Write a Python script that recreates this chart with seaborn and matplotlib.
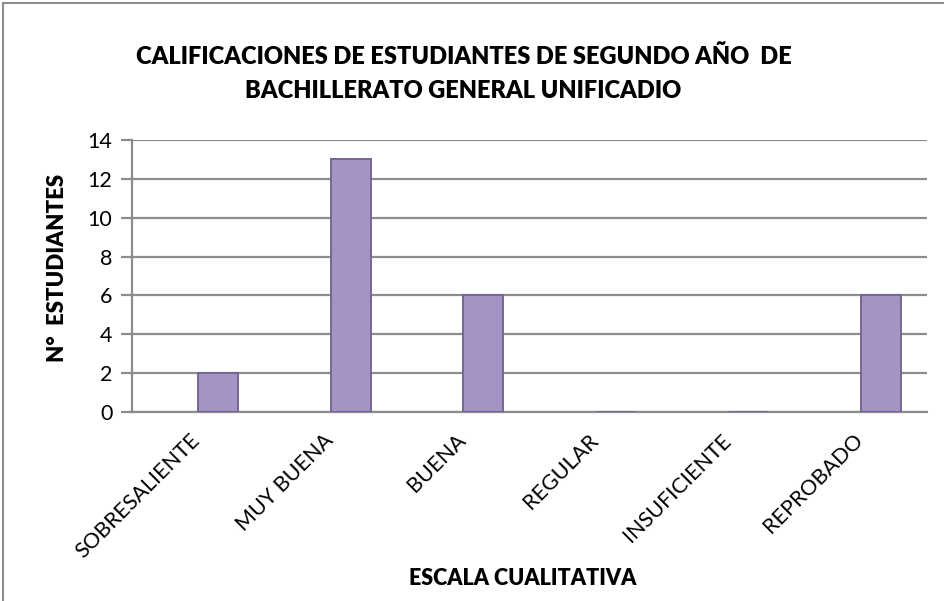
import matplotlib
matplotlib.use("Agg")
import matplotlib.pyplot as plt
import matplotlib.transforms as mtransforms
from matplotlib.patches import Rectangle
import seaborn as sns
import pandas as pd

categorias = ["SOBRESALIENTE", "MUY BUENA", "BUENA", "REGULAR", "INSUFICIENTE", "REPROBADO"]
estudiantes = [2, 13, 6, 0, 0, 6]
y_ticks = [0, 2, 4, 6, 8, 10, 12, 14]

titulo = "CALIFICACIONES DE ESTUDIANTES DE SEGUNDO AÑO  DE\nBACHILLERATO GENERAL UNIFICADIO"
etiqueta_x = "ESCALA CUALITATIVA"
etiqueta_y = "N°  ESTUDIANTES"

df = pd.DataFrame({"categoria": categorias, "estudiantes": estudiantes})

sns.set_theme(style="white")
plt.rcParams["font.family"] = ["Lato", "DejaVu Sans"]

fig = plt.figure(figsize=(9.44, 6.01), dpi=100)
fig.patch.set_facecolor("white")
ax = fig.add_axes([0.1398, 0.3145, 0.8422, 0.4525])

sns.barplot(data=df, x="categoria", y="estudiantes", ax=ax, color="#a494c6",
            width=0.30, saturation=1, edgecolor="#75668f", linewidth=1.4, zorder=3)

ax.set_xlim(-0.649, 5.347)
ax.set_ylim(0, 14)
ax.set_yticks(y_ticks)
ax.set_yticklabels([str(v) for v in y_ticks], fontsize=15.5, color="black")

ax.yaxis.grid(True, color="#8c8c8c", linewidth=1.6, zorder=0)
ax.set_axisbelow(True)
for s in ["top", "right"]:
    ax.spines[s].set_visible(False)
ax.spines["left"].set_color("#8c8c8c")
ax.spines["left"].set_linewidth(1.6)
ax.spines["bottom"].set_color("#8c8c8c")
ax.spines["bottom"].set_linewidth(1.6)
ax.tick_params(axis="y", which="major", length=8, width=1.6, color="#8c8c8c", left=True, pad=6)
ax.tick_params(axis="x", length=0, pad=13)

ax.set_xticks(range(len(categorias)))
ax.set_xticklabels(categorias, rotation=45, ha="right", rotation_mode="anchor",
                   fontsize=15.5, color="black")
shift = mtransforms.ScaledTranslation(-28 / 100, 0, fig.dpi_scale_trans)
for lbl in ax.get_xticklabels():
    lbl.set_transform(lbl.get_transform() + shift)

ax.set_xlabel("")
ax.set_ylabel("")
fig.text(0.061, 0.554, etiqueta_y, rotation=90, ha="center", va="center",
         fontsize=16, fontweight="heavy", color="black")
fig.text(0.554, 0.038, etiqueta_x, ha="center", va="center",
         fontsize=15.5, fontweight="heavy", color="black")
fig.text(0.491, 0.878, titulo, ha="center", va="center", fontsize=17,
         fontweight="heavy", color="black", linespacing=1.65)

fig.patches.append(Rectangle((3 / 944, -0.05), 1.1, 1.05 - 3 / 601, transform=fig.transFigure,
                             fill=False, edgecolor="#8c8c8c", linewidth=1.5))

fig.savefig("out.png", dpi=100, facecolor="white")
